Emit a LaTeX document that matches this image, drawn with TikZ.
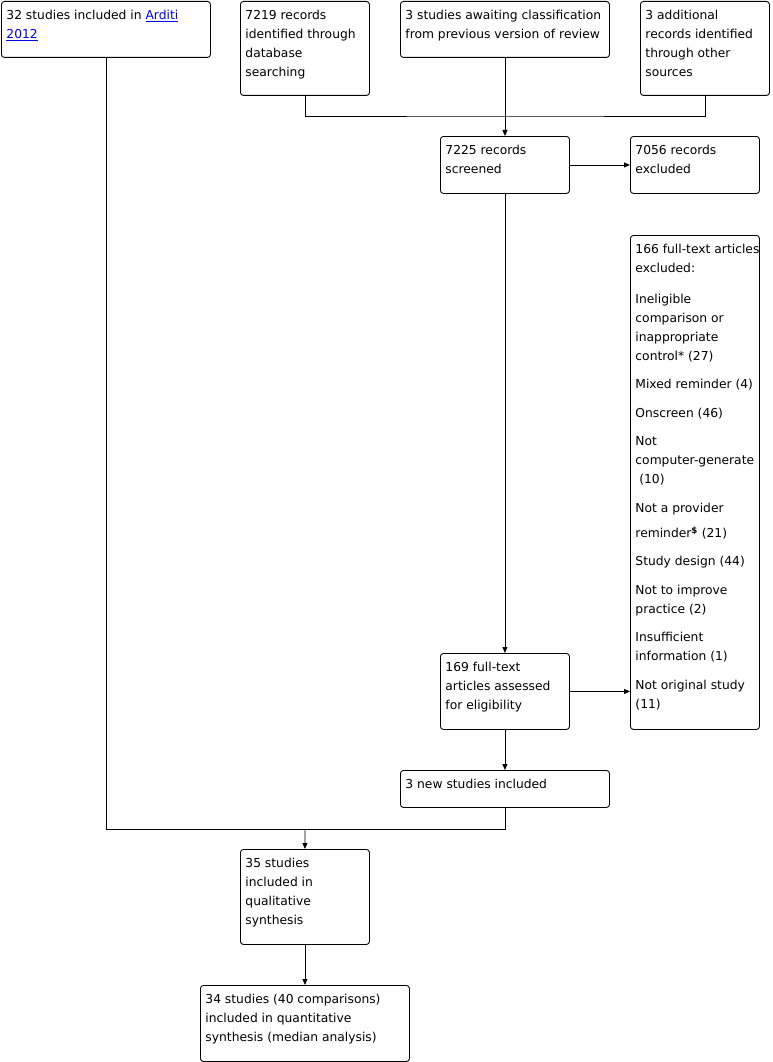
\documentclass[tikz,border=0pt]{standalone}
\usepackage{fontspec}
\setmainfont{DejaVu Sans}
\usetikzlibrary{arrows.meta}

\definecolor{linkblue}{RGB}{0,0,238}

% box text: width, height, lines (top left, explicit breaks)
\newcommand{\boxtxt}[3]{\parbox[t][#2pt][t]{#1pt}{\raggedright\leftskip=5pt\rightskip=-20pt plus 1fil\rule{0pt}{18pt}#3}}
\newcommand{\lnk}[1]{\textcolor{linkblue}{\underline{#1}}}

\begin{document}
\begin{tikzpicture}[x=1pt, y=-1pt,
    flowbox/.style={draw, rounded corners=3pt, anchor=north west, inner sep=0pt,
        line width=0.9pt, font=\fontsize{12.3pt}{19pt}\selectfont},
    flowline/.style={line width=0.9pt},
    flowarrow/.style={flowline, -{Triangle[length=6pt,width=5pt]}}]

    \useasboundingbox (0,0) rectangle (772,1062);

    %----- TOP ROW -----
    \node[flowbox] (arditi) at (1,1)
        {\boxtxt{209}{56}{32 studies included in \lnk{Arditi}\\\lnk{2012}}};
    \node[flowbox] (database) at (240,1)
        {\boxtxt{129}{94}{7219 records\\identified through\\database\\searching}};
    \node[flowbox] (awaiting) at (400,1)
        {\boxtxt{209}{56}{3 studies awaiting classification\\from previous version of review}};
    \node[flowbox] (other) at (640,1)
        {\boxtxt{129}{94}{3 additional\\records identified\\through other\\sources}};

    %----- SCREENING -----
    \node[flowbox] (screened) at (440,136)
        {\boxtxt{129}{57}{7225 records\\screened}};
    \node[flowbox] (excluded) at (630,136)
        {\boxtxt{129}{57}{7056 records\\excluded}};

    %----- ELIGIBILITY -----
    \def\pgap{9.5pt}
    \node[flowbox] (reasons) at (630,235)
        {\boxtxt{129}{494}{166 full-text articles\\excluded:\\[12pt]
        Ineligible\\comparison or\\inappropriate\\control* (27)\\[\pgap]
        Mixed reminder (4)\\[\pgap]
        Onscreen (46)\\[\pgap]
        Not\\computer-generate\\\hspace*{3.9pt}(10)\\[\pgap]
        Not a provider\\[6pt]
        reminder\textsuperscript{\textbf{\$}} (21)\\[\pgap]
        Study design (44)\\[\pgap]
        Not to improve\\practice (2)\\[\pgap]
        Insufficient\\information (1)\\[\pgap]
        Not original study\\(11)}};
    \node[flowbox] (assessed) at (440,653)
        {\boxtxt{129}{76}{169 full-text\\articles assessed\\for eligibility}};

    %----- INCLUDED -----
    \node[flowbox] (newstudies) at (400,770)
        {\boxtxt{209}{37}{3 new studies included}};
    \node[flowbox] (qualitative) at (240,849)
        {\boxtxt{129}{95}{35 studies\\included in\\qualitative\\synthesis}};
    \node[flowbox] (quantitative) at (200,985)
        {\boxtxt{209}{76}{34 studies (40 comparisons)\\included in quantitative\\synthesis (median analysis)}};

    %----- CONNECTORS -----
    \coordinate (mergetop) at (505,116);
    \coordinate (mergebot) at (305,829);

    \draw[flowline] (database.south) |- (mergetop) -| (other.south);
    \draw[flowarrow] (awaiting.south) -- (screened.north);
    \draw[flowarrow] (screened.east) -- (excluded.west);
    \draw[flowarrow] (screened.south) -- (assessed.north);
    \draw[flowarrow] (assessed.east) -- (assessed.east -| reasons.west);
    \draw[flowarrow] (assessed.south) -- (newstudies.north);

    \draw[flowline] (arditi.south) |- (mergebot);
    \draw[flowline] (newstudies.south) |- (mergebot);
    \draw[flowarrow] (mergebot) -- (qualitative.north);
    \draw[flowarrow] (qualitative.south) -- (quantitative.north);

\end{tikzpicture}
\end{document}
